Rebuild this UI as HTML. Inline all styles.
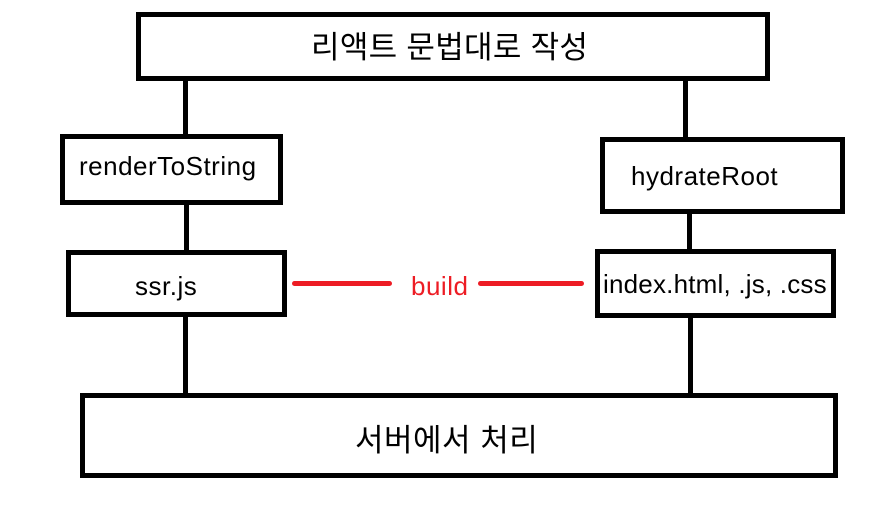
<!DOCTYPE html>
<html><head><meta charset="utf-8"><style>
html,body{margin:0;padding:0;background:#fff;width:889px;height:525px;overflow:hidden}
.b{position:absolute;border:5px solid #000;box-sizing:border-box;background:#fff}
.v{position:absolute;background:#000;width:5px}
.t{position:absolute;font-family:"Liberation Sans","Noto Sans CJK KR",sans-serif;color:#000;white-space:nowrap;line-height:1;letter-spacing:0.5px}
.r{position:absolute;background:#ed1c24;height:5px;border-radius:3px}
</style></head><body>
<div class="v" style="left:183px;top:76px;height:62px"></div>
<div class="v" style="left:184px;top:202px;height:50px"></div>
<div class="v" style="left:183px;top:314px;height:82px"></div>
<div class="v" style="left:683px;top:78px;height:62px"></div>
<div class="v" style="left:687px;top:211px;height:40px"></div>
<div class="v" style="left:688px;top:315px;height:81px"></div>
<div class="b" style="left:136px;top:12px;width:634px;height:69px"></div>
<div class="b" style="left:60px;top:134px;width:223px;height:71px"></div>
<div class="b" style="left:66px;top:250px;width:221px;height:67px"></div>
<div class="b" style="left:600px;top:137px;width:245px;height:77px"></div>
<div class="b" style="left:595px;top:249px;width:241px;height:69px"></div>
<div class="b" style="left:80px;top:393px;width:758px;height:85px"></div>
<div class="r" style="left:292px;top:281px;width:100px"></div>
<div class="r" style="left:478px;top:281px;width:106px"></div>
<div class="t" style="left:311px;top:32px;font-size:31px;letter-spacing:0.3px">리액트 문법대로 작성</div>
<div class="t" style="left:79px;top:153px;font-size:26px">renderToString</div>
<div class="t" style="left:135px;top:273px;font-size:26px">ssr.js</div>
<div class="t" style="left:631px;top:163px;font-size:26px">hydrateRoot</div>
<div class="t" style="left:603px;top:271px;font-size:26px;letter-spacing:0.2px">index.html, .js, .css</div>
<div class="t" style="left:411px;top:273px;font-size:26px;color:#ed1c24">build</div>
<div class="t" style="left:355px;top:425px;font-size:31px;letter-spacing:0.5px">서버에서 처리</div>
</body></html>
